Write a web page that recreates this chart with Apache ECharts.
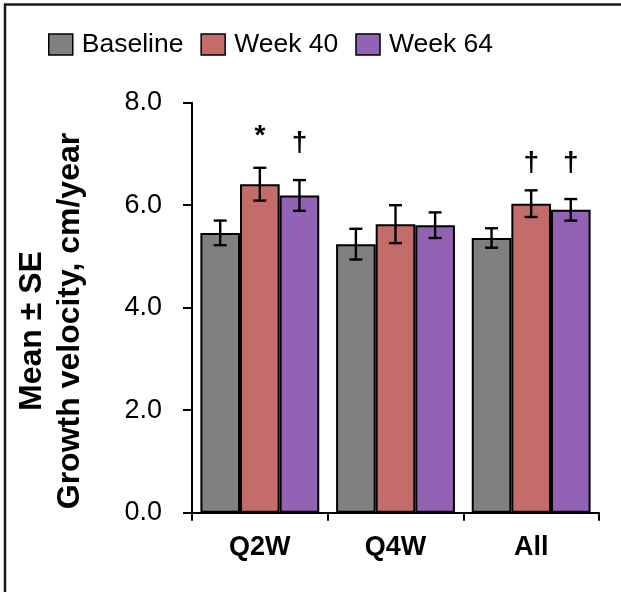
<!DOCTYPE html>
<html>
<head>
<meta charset="utf-8">
<script src="https://cdn.jsdelivr.net/npm/echarts@6/dist/echarts.min.js"></script>
<style>
html,body{margin:0;padding:0;background:#fff;}
#chart{width:621px;height:592px;}
</style>
</head>
<body>
<div id="chart"></div>
<script>
// ---- Data ----
var categories = ['Q2W', 'Q4W', 'All'];
var seriesNames = ['Baseline', 'Week 40', 'Week 64'];
var baselineMean = [5.46, 5.24, 5.36];
var baselineSE   = [0.24, 0.30, 0.19];
var week40Mean   = [6.41, 5.63, 6.03];
var week40SE     = [0.32, 0.37, 0.26];
var week64Mean   = [6.19, 5.61, 5.91];
var week64SE     = [0.30, 0.25, 0.21];
// significance marks (symbol and the value level where it is printed)
var week40Marks  = ['*', '', '\u2020'];
var week40MarkY  = [7.35, null, 6.82];
var week64Marks  = ['\u2020', '', '\u2020'];
var week64MarkY  = [7.2, null, 6.82];
var yTicks = [0, 2, 4, 6, 8];
var yTitleLines = ['Mean \u00b1 SE', 'Growth velocity, cm/year'];

var colors = ['#808080', '#C46C6A', '#9262B5'];
var FONT = 'Liberation Sans, Arial, sans-serif';
var CAT_GAP = 0.124;

var means = [baselineMean, week40Mean, week64Mean];
var ses = [baselineSE, week40SE, week64SE];

var chart = echarts.init(document.getElementById('chart'));

function barOffset(api, s) {
  var band = api.size([1, 0])[0];
  var bw = band * (1 - CAT_GAP) / 3;
  return (s - 1) * bw;
}

var series = [];
for (var s = 0; s < 3; s++) {
  series.push({
    name: seriesNames[s],
    type: 'bar',
    data: means[s],
    barGap: '0%',
    barCategoryGap: (CAT_GAP * 100) + '%',
    itemStyle: { color: colors[s], borderColor: '#000', borderWidth: 2 },
    z: 2
  });
}
// error bars
var errData = [];
for (var s2 = 0; s2 < 3; s2++) {
  for (var c = 0; c < categories.length; c++) {
    errData.push([c, means[s2][c], ses[s2][c], s2]);
  }
}
series.push({
  type: 'custom',
  z: 5,
  silent: true,
  data: errData,
  renderItem: function (params, api) {
    var c = api.value(0), m = api.value(1), se = api.value(2), s = api.value(3);
    var off = barOffset(api, s);
    var top = api.coord([c, m + se]);
    var bot = api.coord([c, m - se]);
    var x = top[0] + off;
    var cap = 6.5;
    var st = { stroke: '#000', lineWidth: 2.4 };
    return {
      type: 'group',
      children: [
        { type: 'line', shape: { x1: x, y1: top[1], x2: x, y2: bot[1] }, style: st },
        { type: 'line', shape: { x1: x - cap, y1: top[1], x2: x + cap, y2: top[1] }, style: st },
        { type: 'line', shape: { x1: x - cap, y1: bot[1], x2: x + cap, y2: bot[1] }, style: st }
      ]
    };
  }
});
// significance marks
var markData = [];
for (var c2 = 0; c2 < categories.length; c2++) {
  if (week40Marks[c2]) markData.push([c2, week40MarkY[c2], 1, week40Marks[c2]]);
  if (week64Marks[c2]) markData.push([c2, week64MarkY[c2], 2, week64Marks[c2]]);
}
series.push({
  type: 'custom',
  z: 6,
  silent: true,
  data: markData,
  renderItem: function (params, api) {
    var d = markData[params.dataIndex];
    var p = api.coord([d[0], d[1]]);
    var x = p[0] + barOffset(api, d[2]);
    return {
      type: 'text',
      style: {
        text: d[3],
        x: x, y: p[1],
        align: 'center', verticalAlign: 'middle',
        font: 'bold 28px ' + FONT,
        fill: '#000'
      }
    };
  }
});

chart.setOption({
  animation: false,
  backgroundColor: '#fff',
  textStyle: { fontFamily: FONT },
  legend: {
    data: seriesNames,
    left: 43,
    top: 26,
    itemWidth: 24,
    itemHeight: 21,
    itemGap: 17,
    icon: 'rect',
    itemStyle: { borderColor: '#000', borderWidth: 1.5 },
    textStyle: { fontSize: 26.5, color: '#000', fontFamily: FONT, padding: [0, 0, 0, 4] }
  },
  grid: { left: 192, right: 22, top: 102.7, bottom: 79.3, containLabel: false, outerBoundsMode: 'none' },
  xAxis: {
    type: 'category',
    data: categories,
    axisLine: { lineStyle: { color: '#000', width: 2 } },
    axisTick: { show: true, length: 8, lineStyle: { color: '#000', width: 2 } },
    axisLabel: { fontSize: 27, fontWeight: 'bold', color: '#000', margin: 21, fontFamily: FONT }
  },
  yAxis: {
    type: 'value',
    min: yTicks[0],
    max: yTicks[yTicks.length - 1],
    interval: yTicks[1] - yTicks[0],
    splitLine: { show: false },
    axisLine: { show: true, lineStyle: { color: '#000', width: 2 } },
    axisTick: { show: true, length: 9, lineStyle: { color: '#000', width: 2 } },
    axisLabel: {
      fontSize: 27, color: '#000', margin: 30, fontFamily: FONT,
      formatter: function (v) { return v.toFixed(1); }
    }
  },
  graphic: [
    { type: 'line', shape: { x1: 4, y1: 4.5, x2: 621, y2: 4.5 }, style: { stroke: '#1a1a1a', lineWidth: 2.5 }, z: 10 },
    { type: 'line', shape: { x1: 5, y1: 4, x2: 5, y2: 592 }, style: { stroke: '#1a1a1a', lineWidth: 2.5 }, z: 10 },
    { type: 'text', x: 32, y: 331, rotation: Math.PI / 2,
      style: { text: yTitleLines[0], font: 'bold 32px ' + FONT, fill: '#000', align: 'center', verticalAlign: 'middle' } },
    { type: 'text', x: 70, y: 321, rotation: Math.PI / 2,
      style: { text: yTitleLines[1], font: 'bold 32px ' + FONT, fill: '#000', align: 'center', verticalAlign: 'middle' } }
  ],
  series: series
});
</script>
</body>
</html>
